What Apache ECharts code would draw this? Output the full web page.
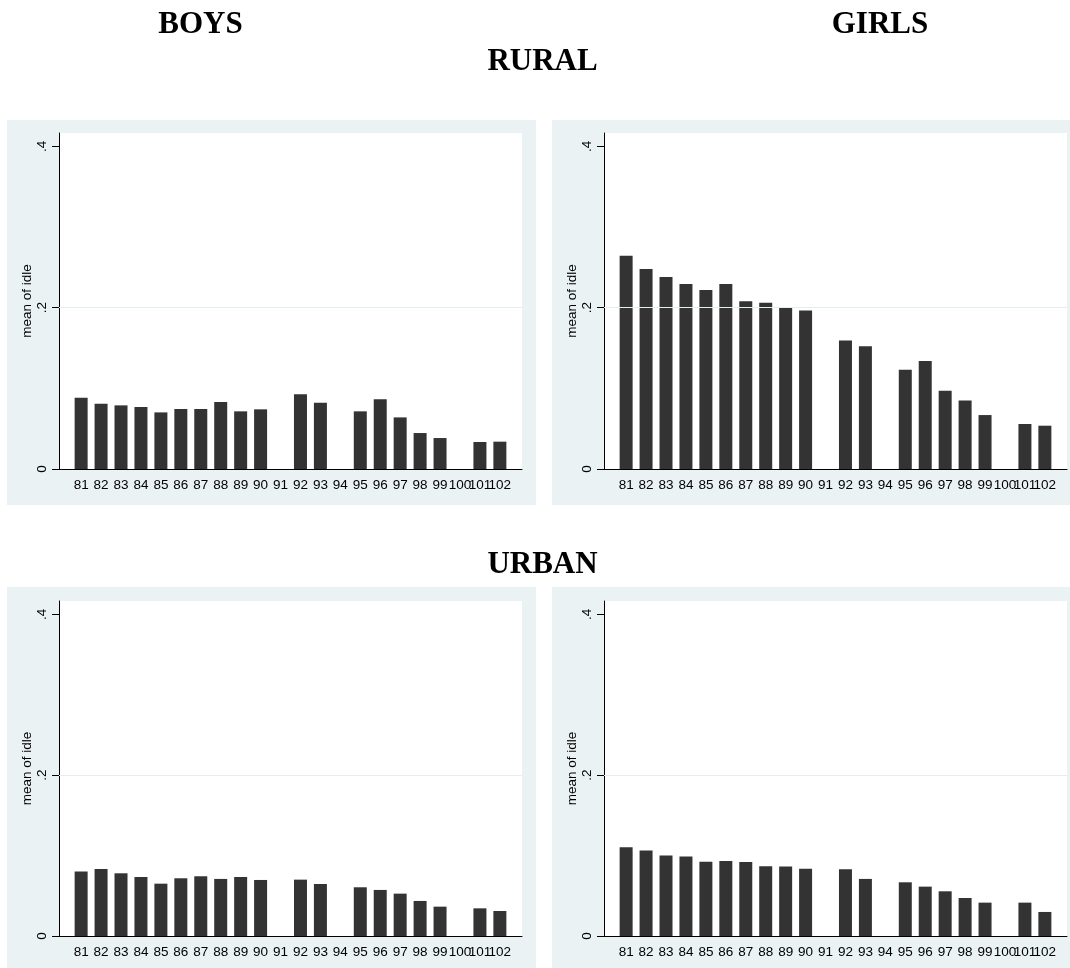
<!DOCTYPE html>
<html>
<head>
<meta charset="utf-8">
<title>mean of idle by year</title>
<script src="https://cdn.jsdelivr.net/npm/echarts@6/dist/echarts.min.js"></script>
<style>
  html, body { margin: 0; padding: 0; background: #ffffff; }
  #chart { width: 1070px; height: 968px; }
</style>
</head>
<body>
<div id="chart"></div>
<script>
// Survey years (x categories); 91, 94 and 100 have no observation.
const years = [81, 82, 83, 84, 85, 86, 87, 88, 89, 90, 91, 92, 93, 94, 95, 96, 97, 98, 99, 100, 101, 102];

// Mean of idle, one value per year (null = no bar).
const boysRural  = [0.0884, 0.0810, 0.0789, 0.0769, 0.0702, 0.0744, 0.0744, 0.0831, 0.0715, 0.0740, null, 0.0926, 0.0822, null, 0.0715, 0.0864, 0.0640, 0.0446, 0.0384, null, 0.0335, 0.0339];
const girlsRural = [0.2645, 0.2479, 0.2380, 0.2293, 0.2219, 0.2293, 0.2079, 0.2062, 0.2004, 0.1967, null, 0.1595, 0.1521, null, 0.1231, 0.1339, 0.0971, 0.0851, 0.0669, null, 0.0558, 0.0537];
const boysUrban  = [0.0801, 0.0834, 0.0780, 0.0734, 0.0651, 0.0718, 0.0743, 0.0710, 0.0734, 0.0697, null, 0.0701, 0.0647, null, 0.0606, 0.0573, 0.0527, 0.0436, 0.0365, null, 0.0344, 0.0311];
const girlsUrban = [0.1104, 0.1062, 0.1000, 0.0988, 0.0925, 0.0934, 0.0921, 0.0867, 0.0863, 0.0838, null, 0.0830, 0.0710, null, 0.0668, 0.0614, 0.0556, 0.0473, 0.0415, null, 0.0415, 0.0299];

// Y-axis tick values and the light grid line value.
const yTicks = [0, 0.2, 0.4];
const yGrid = [0.2];

// Column / row headings.
const colTitles = ['BOYS', 'GIRLS'];
const rowTitles = ['RURAL', 'URBAN'];

const panels = [boysRural, girlsRural, boysUrban, girlsUrban];

// Plot-region layout for the 2x2 panels.
const plotLeft = [59, 604];
const plotTop = [133, 601];
const plotW = 463;
const plotH = [336, 335];
const boxLeft = [7, 552];
const boxW = [529, 518];
const boxTop = [120, 587];
const boxH = [385, 381];

const PANEL_BG = '#eaf2f3';
const BAR = '#333333';
const SANS = '"Liberation Sans", Arial, sans-serif';
const SERIF = '"Liberation Serif", "Times New Roman", serif';
const LABEL_SIZE = 13.5;
const X_MIN = 79.89, X_MAX = 103.11;

// Year labels sit tightly together, so they are split over two
// coincident axes (alternate years) to keep every label visible.
const yearsA = years.filter((y, i) => i % 2 === 0);
const yearsB = years.filter((y, i) => i % 2 === 1);

const grids = [], xAxes = [], yAxes = [], series = [], graphics = [];

function yearAxis(p, values, showLine) {
  return {
    gridIndex: p, type: 'value', min: X_MIN, max: X_MAX, position: 'bottom',
    axisLine: { show: showLine, onZero: false, lineStyle: { color: '#000', width: 1 } },
    axisTick: { show: false },
    splitLine: { show: false },
    axisLabel: {
      customValues: values, margin: 9, color: '#000',
      fontFamily: SANS, fontSize: LABEL_SIZE,
      showMinLabel: true, showMaxLabel: true, hideOverlap: false,
      formatter: v => String(v)
    }
  };
}

panels.forEach((vals, p) => {
  const c = p % 2, r = Math.floor(p / 2);
  graphics.push({
    type: 'rect', z: -10,
    shape: { x: boxLeft[c], y: boxTop[r], width: boxW[c], height: boxH[r] },
    style: { fill: PANEL_BG }
  });
  grids.push({
    left: plotLeft[c], top: plotTop[r], width: plotW, height: plotH[r],
    show: true, backgroundColor: '#ffffff', borderWidth: 0
  });
  xAxes.push(yearAxis(p, yearsA, true));
  xAxes.push(yearAxis(p, yearsB, false));
  yAxes.push({
    gridIndex: p, type: 'value', min: 0, max: 0.4167,
    name: 'mean of idle', nameLocation: 'middle', nameRotate: 90, nameGap: 22,
    nameTextStyle: { fontFamily: SANS, fontSize: LABEL_SIZE, color: '#000' },
    axisLine: { show: true, onZero: false, lineStyle: { color: '#000', width: 1 } },
    axisTick: { show: true, customValues: yTicks, length: 7, lineStyle: { color: '#000' } },
    splitLine: { show: false },
    axisLabel: {
      customValues: yTicks, rotate: 90, margin: 10, color: '#000',
      fontFamily: SANS, fontSize: LABEL_SIZE,
      showMinLabel: true, showMaxLabel: true,
      formatter: v => (v === 0 ? '0' : String(+v.toFixed(1)).replace(/^0/, ''))
    }
  });
  series.push({
    type: 'bar', xAxisIndex: 2 * p, yAxisIndex: p,
    barWidth: 13,
    itemStyle: { color: BAR },
    data: years.map((y, i) => [y, vals[i]]).filter(d => d[1] !== null),
    markLine: {
      silent: true, symbol: 'none', label: { show: false },
      lineStyle: { color: '#e4edef', width: 1, type: 'solid' },
      data: yGrid.map(v => ({ yAxis: v }))
    },
    animation: false
  });
});

// Headings
const headFont = 'bold 31px ' + SERIF;
[[colTitles[0], 200.5, 25], [colTitles[1], 880, 25], [rowTitles[0], 542.5, 62], [rowTitles[1], 542.5, 565]]
  .forEach(([t, x, y]) => graphics.push({
    type: 'text', x: x, y: y,
    style: { text: t, font: headFont, fill: '#000', align: 'center', verticalAlign: 'middle' }
  }));

const chart = echarts.init(document.getElementById('chart'), null, { renderer: 'canvas' });
chart.setOption({
  animation: false,
  backgroundColor: '#ffffff',
  grid: grids,
  xAxis: xAxes,
  yAxis: yAxes,
  series: series,
  graphic: { elements: graphics }
});
</script>
</body>
</html>
